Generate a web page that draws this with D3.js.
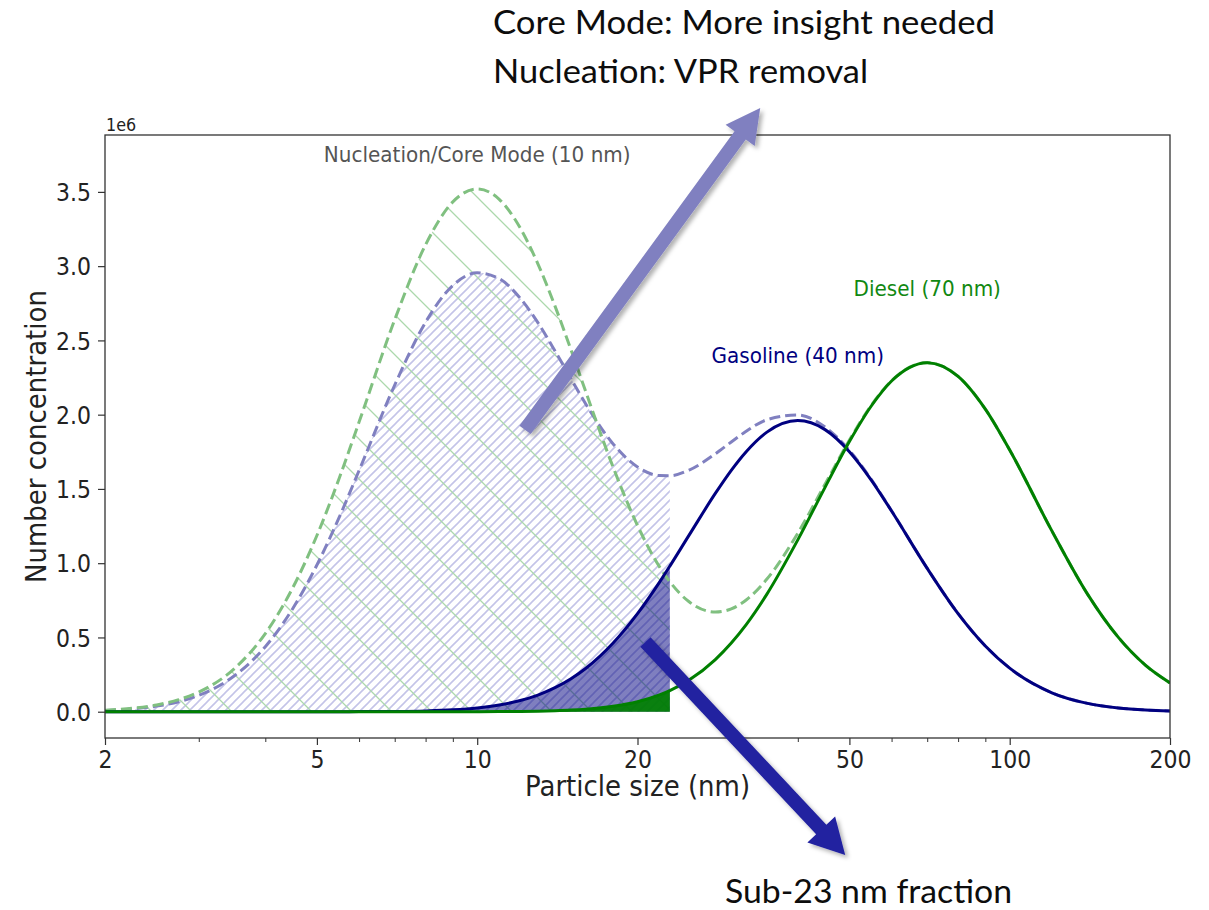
<!DOCTYPE html>
<html><head><meta charset="utf-8">
<script src="https://cdn.jsdelivr.net/npm/d3@7"></script>
<style>body{margin:0;background:#fff;} svg{display:block}</style>
</head><body><svg id="c" width="1209" height="910"></svg>
<script>
// ---- data ----
const sizes = [2,2.25,2.5,2.75,3,3.5,4,4.5,5,5.5,6,7,8,9,10,11,12,13,14,15,16,18,20,22,23,25,28,30,32,35,40,45,50,55,60,70,80,90,100,120,140,160,180,200];
const gasolineAcc = [0,0,0,0,0,0,0,0,0.0001,0.0003,0.0006,0.002,0.0056,0.0127,0.0253,0.0451,0.0737,0.1123,0.1618,0.2221,0.293,0.463,0.6605,0.8726,0.98,1.1887,1.4696,1.6252,1.7509,1.8824,1.96,1.8994,1.7509,1.558,1.351,0.9649,0.6605,0.4424,0.293,0.1276,0.0562,0.0253,0.0117,0.0056];
const dieselAcc = [0,0,0,0,0,0,0,0,0,0,0,0,0,0.0002,0.0004,0.001,0.0021,0.0038,0.0067,0.0109,0.017,0.0361,0.0674,0.1132,0.1424,0.2133,0.3513,0.4627,0.587,0.792,1.1569,1.5108,1.8187,2.06,2.2269,2.35,2.2572,2.037,1.762,1.2175,0.792,0.5003,0.3121,0.1939];
const gasolineTotal = [0.0083,0.019,0.0378,0.0674,0.1102,0.2418,0.438,0.692,0.9876,1.3047,1.6238,2.199,2.623,2.87,2.955,2.916,2.791,2.62,2.429,2.242,2.07,1.803,1.648,1.59,1.589,1.627,1.736,1.816,1.888,1.966,1.998,1.917,1.759,1.562,1.353,0.9655,0.6605,0.4424,0.293,0.1276,0.0562,0.0253,0.0117,0.0056];
const dieselTotal = [0.01,0.0229,0.0454,0.081,0.1324,0.2905,0.5262,0.8314,1.1862,1.5671,1.9501,2.6393,3.1444,3.433,3.52,3.45,3.267,3.016,2.731,2.437,2.152,1.646,1.254,0.975,0.875,0.74,0.671,0.692,0.752,0.893,1.202,1.532,1.829,2.065,2.229,2.351,2.2572,2.037,1.762,1.2175,0.792,0.5003,0.3121,0.1939];
const cutoff = 23;
const xTicks = [2,5,10,20,50,100,200];
const xMinorTicks = [3,4,6,7,8,9,30,40,60,70,80,90];
const yTicks = [0,0.5,1.0,1.5,2.0,2.5,3.0,3.5];

// ---- layout ----
const M = {l:105, r:1170, t:135, b:738};
const SY = 1.1; // vertical stretch of the figure text
const svg = d3.select('#c');
const x = d3.scaleLog().domain([2,200]).range([M.l, M.r]);
const y = d3.scaleLinear().domain([-0.177, 3.883]).range([M.b, M.t]);

const rows = arr => sizes.map((s,i)=>({s, v:arr[i]}));
const sub = arr => rows(arr).filter(d=>d.s<=cutoff);

const defs = svg.append('defs');
defs.append('clipPath').attr('id','plotclip').append('rect')
  .attr('x',M.l).attr('y',M.t).attr('width',M.r-M.l).attr('height',M.b-M.t);
const pb = defs.append('pattern').attr('id','hatchBlue').attr('patternUnits','userSpaceOnUse')
  .attr('width',9).attr('height',9);
pb.append('path').attr('d','M-1,1 L1,-1 M0,9 L9,0 M8,10 L10,8')
  .attr('stroke','#c4c4e8').attr('stroke-width',1.6).attr('fill','none');
const pg = defs.append('pattern').attr('id','hatchGreen').attr('patternUnits','userSpaceOnUse')
  .attr('width',40).attr('height',40);
pg.append('path').attr('d','M0,0 L40,40 M-2,38 L2,42 M38,-2 L42,2')
  .attr('stroke','#acd8ac').attr('stroke-width',1.3).attr('fill','none');
const f = defs.append('filter').attr('id','shadow').attr('x','-20%').attr('y','-20%').attr('width','140%').attr('height','140%');
f.append('feDropShadow').attr('dx',3).attr('dy',3).attr('stdDeviation',2)
  .attr('flood-color','#000').attr('flood-opacity',0.3);

const area = d3.area().x(d=>x(d.s)).y0(y(0)).y1(d=>y(d.v)).curve(d3.curveMonotoneX);
const line = d3.line().x(d=>x(d.s)).y(d=>y(d.v)).curve(d3.curveMonotoneX);

const plot = svg.append('g').attr('clip-path','url(#plotclip)');
// hatched nucleation areas
plot.append('path').attr('d', area(sub(gasolineTotal))).attr('fill','url(#hatchBlue)');
plot.append('path').attr('d', area(sub(dieselTotal))).attr('fill','url(#hatchGreen)');
// sub-23 accumulation fills
plot.append('path').attr('d', area(sub(gasolineAcc))).attr('fill','#000080').attr('fill-opacity',0.5);
plot.append('path').attr('d', area(sub(dieselAcc))).attr('fill','#008000').attr('fill-opacity',0.92);
// dashed totals
plot.append('path').attr('d', line(rows(gasolineTotal))).attr('fill','none')
  .attr('stroke','#8080c0').attr('stroke-width',3).attr('stroke-dasharray','11,5');
plot.append('path').attr('d', line(rows(dieselTotal))).attr('fill','none')
  .attr('stroke','#80c080').attr('stroke-width',3).attr('stroke-dasharray','11,5');
// solid accumulation modes
plot.append('path').attr('d', line(rows(gasolineAcc))).attr('fill','none')
  .attr('stroke','#000080').attr('stroke-width',3);
plot.append('path').attr('d', line(rows(dieselAcc))).attr('fill','none')
  .attr('stroke','#008000').attr('stroke-width',3);

// frame
svg.append('rect').attr('x',M.l).attr('y',M.t).attr('width',M.r-M.l).attr('height',M.b-M.t)
  .attr('fill','none').attr('stroke','#333').attr('stroke-width',1.3);

// axes
const tickFont = g => g.selectAll('text').attr('font-family','DejaVu Sans').attr('font-size',22).attr('fill','#222');
const xa = svg.append('g').attr('transform',`translate(0,${M.b})`)
  .call(d3.axisBottom(x).tickValues(xTicks).tickFormat(d=>String(d)).tickSize(7).tickSizeOuter(0).tickPadding(5));
xa.select('.domain').remove();
xa.selectAll('line').attr('stroke','#333').attr('stroke-width',1.2);
xa.call(tickFont);
xa.selectAll('text').attr('transform',`scale(1,${SY})`);
const xm = svg.append('g').attr('transform',`translate(0,${M.b})`)
  .call(d3.axisBottom(x).tickValues(xMinorTicks).tickFormat('').tickSize(4).tickSizeOuter(0));
xm.select('.domain').remove();
xm.selectAll('line').attr('stroke','#333').attr('stroke-width',1);

const ya = svg.append('g').attr('transform',`translate(${M.l},0)`)
  .call(d3.axisLeft(y).tickValues(yTicks).tickFormat(d3.format('.1f')).tickSize(7).tickSizeOuter(0).tickPadding(7));
ya.select('.domain').remove();
ya.selectAll('line').attr('stroke','#333').attr('stroke-width',1.2);
ya.call(tickFont);
ya.selectAll('text').attr('transform',`scale(1,${SY})`).attr('dy','0.36em');

function mtext(px, py, str, size, color, anchor, rot){
  const t = svg.append('text')
    .attr('transform',`translate(${px},${py}) rotate(${rot||0}) scale(1,${SY})`)
    .attr('text-anchor',anchor||'middle').attr('font-family','DejaVu Sans')
    .attr('font-size',size).attr('fill',color).text(str);
  return t;
}
mtext(M.l+1, 131, '1e6', 16, '#222', 'start');
mtext((M.l+M.r)/2, 796, 'Particle size (nm)', 26, '#222', 'middle');
mtext(46, (M.t+M.b)/2, 'Number concentration', 26, '#222', 'middle', -90);
mtext(x(10), y(3.7), 'Nucleation/Core Mode (10 nm)', 20, '#555', 'middle');
mtext(x(70), y(2.8), 'Diesel (70 nm)', 20, '#118811', 'middle');
mtext(x(40), y(2.35), 'Gasoline (40 nm)', 20, '#000080', 'middle');

// slide annotations (arrows + captions)
function arrow(tail, tip, shaftW, headW, headL, color){
  const [x0,y0]=[x(tail[0]), y(tail[1])], [x1,y1]=[x(tip[0]), y(tip[1])];
  const dx=x1-x0, dy=y1-y0, L=Math.hypot(dx,dy), ux=dx/L, uy=dy/L, nx=-uy, ny=ux;
  const bx=x1-ux*headL, by=y1-uy*headL;
  const p=[[x0+nx*shaftW/2,y0+ny*shaftW/2],[bx+nx*shaftW/2,by+ny*shaftW/2],[bx+nx*headW/2,by+ny*headW/2],
    [x1,y1],[bx-nx*headW/2,by-ny*headW/2],[bx-nx*shaftW/2,by-ny*shaftW/2],[x0-nx*shaftW/2,y0-ny*shaftW/2]];
  svg.append('path').attr('d','M'+p.map(q=>q.join(',')).join('L')+'Z')
    .attr('fill',color).attr('filter','url(#shadow)');
}
arrow([12.3,1.897],[34.0,4.065],14,36,34,'#8080c0');
arrow([20.7,0.469],[49.1,-0.965],14,38,35,'#2121a0');

function caption(px, py, str, w){
  svg.append('text').attr('x',px).attr('y',py).attr('font-family','Lato, "Open Sans", sans-serif')
    .attr('font-size',33).attr('fill','#0d0d0d').attr('textLength',w).attr('lengthAdjust','spacingAndGlyphs').text(str);
}
caption(493, 34, 'Core Mode: More insight needed', 502);
caption(493, 83, 'Nucleation: VPR removal', 375);
caption(725, 903, 'Sub-23 nm fraction', 287);
</script></body></html>
